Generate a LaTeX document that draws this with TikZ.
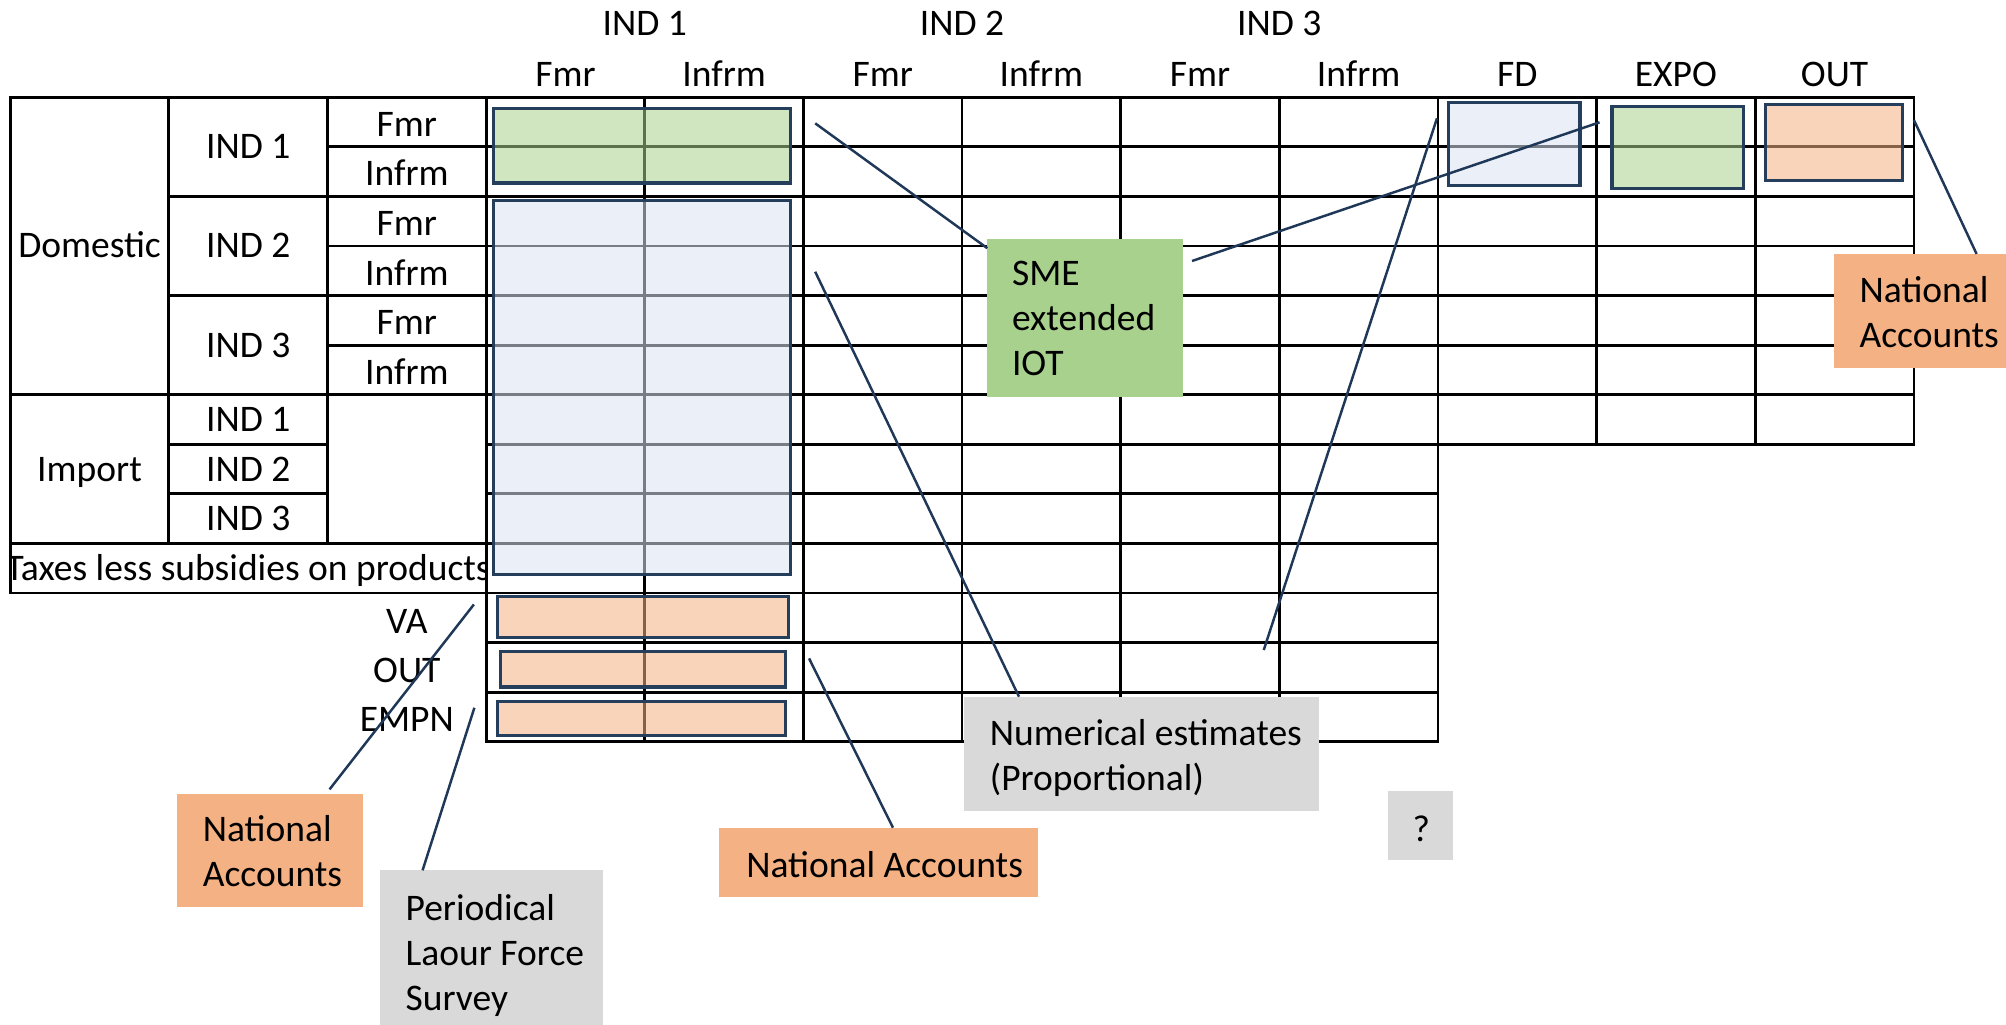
\documentclass[tikz,border=0pt]{standalone}
\usepackage{fontspec}
\setmainfont{Carlito}
\usetikzlibrary{positioning, calc}

\definecolor{boxedge}{RGB}{36,62,92}
\definecolor{linkblue}{RGB}{32,56,88}
\definecolor{greenfill}{HTML}{A9D18E}
\definecolor{bluefill}{HTML}{DAE3F3}
\definecolor{orangefill}{HTML}{F4B183}
\definecolor{greyfill}{HTML}{D9D9D9}

\newcommand{\tablefont}{\fontsize{16.7pt}{20pt}\selectfont}

\tikzset{
    grid line/.style={draw=black, line width=1.25pt, line cap=rect},
    hilite/.style={draw=boxedge, line width=1.4pt, fill opacity=0.55},
    lbl/.style={inner sep=0pt, text height=10.7pt, text depth=0pt},
    callout/.style={anchor=north west, inner sep=0pt, outer sep=0pt},
    callout text/.style={anchor=west, inner sep=0pt, align=left},
    link/.style={draw=linkblue, line width=1.1pt},
}

\begin{document}
\begin{tikzpicture}[x=0.02cm, y=-0.02cm, every node/.style={font=\tablefont}]
    \useasboundingbox (0,0) rectangle (1568,801);

    % headers
    \foreach \ind/\xc in {1/504,2/752,3/1000}
        \node[lbl] (ind\ind) at (\xc,18) {IND \ind};
    \foreach \hd/\xc [count=\i] in {Fmr/442,Infrm/566,Fmr/690,Infrm/814,Fmr/938,Infrm/1062,FD/1186,EXPO/1310,OUT/1434}
        \node[lbl] (head\i) at (\xc,58.5) {\hd};

    % main block
    \foreach \r in {0,...,13}
        \draw[grid line] (380,76+38.75*\r) -- (1124,76+38.75*\r);
    \foreach \xc in {380,504,...,1124}
        \draw[grid line] (\xc,76) -- (\xc,579.75);

    % FD, EXPO, OUT block
    \foreach \r in {0,...,7}
        \draw[grid line] (1124,76+38.75*\r) -- (1496,76+38.75*\r);
    \foreach \xc in {1248,1372,1496}
        \draw[grid line] (\xc,76) -- (\xc,347.25);

    % row labels block
    \draw[grid line] (8,76) rectangle (380,463.5);
    \foreach \xc in {132,256}
        \draw[grid line] (\xc,76) -- (\xc,424.75);
    \draw[grid line] (8,308.5) -- (380,308.5);
    \draw[grid line] (8,424.75) -- (380,424.75);
    \foreach \r in {1,...,5}
        \draw[grid line] (256,76+38.75*\r) -- (380,76+38.75*\r);
    \foreach \r in {2,4,7,8}
        \draw[grid line] (132,76+38.75*\r) -- (256,76+38.75*\r);

    \node[lbl] (domestic) at (70,192.25) {Domestic};
    \node[lbl] (import) at (70,366.6) {Import};
    \foreach \i in {1,2,3} {
        \node[lbl] (dom\i) at (194,37.25+77.5*\i) {IND \i};
        \node[lbl] (imp\i) at (194,289.125+38.75*\i) {IND \i};
    }
    \foreach \nm [count=\k from 0] in {Fmr,Infrm,Fmr,Infrm,Fmr,Infrm}
        \node[lbl] (sub\k) at (318,97.2+38.75*\k) {\nm};
    \begin{scope}
        \clip (8,424.75) rectangle (380,463.5);
        \node[lbl] (taxes) at (194,444.3) {Taxes less subsidies on products};
    \end{scope}
    \node[lbl] (va) at (318,485.6) {VA};
    \node[lbl] (out) at (318,523.9) {OUT};
    \node[lbl] (empn) at (318,562) {EMPN};

    % highlighted blocks
    \draw[hilite, fill=greenfill] (386,85) rectangle (618,143);
    \draw[hilite, fill=bluefill] (386,157) rectangle (618,449);
    \draw[hilite, fill=orangefill] (389,466.5) rectangle (616,498);
    \draw[hilite, fill=orangefill] (391,509) rectangle (614,537);
    \draw[hilite, fill=orangefill] (389,548.5) rectangle (614,575);
    \draw[hilite, fill=bluefill] (1132,80) rectangle (1235,145);
    \draw[hilite, fill=greenfill] (1260,83) rectangle (1363,147.5);
    \draw[hilite, fill=orangefill] (1380,81.5) rectangle (1487,141);

    % sources
    \node[callout, fill=greenfill, minimum width=3.056cm, minimum height=2.476cm] (sme) at (771.7,186.8) {};
    \node[callout text] (sme text) at ($(sme.west)+(19,0.3)$) {SME\\extended\\IOT};
    \node[callout, fill=orangefill, minimum width=2.72cm, minimum height=1.778cm] (naright) at (1433.2,198.5) {};
    \node[callout text] (naright text) at ($(naright.west)+(20,0.7)$) {National\\Accounts};
    \node[callout, fill=orangefill, minimum width=2.91cm, minimum height=1.776cm] (naleft) at (138.2,620.5) {};
    \node[callout text] (naleft text) at ($(naleft.west)+(20,0.7)$) {National\\Accounts};
    \node[callout, fill=greyfill, minimum width=3.484cm, minimum height=2.42cm] (lfs) at (297.2,680.3) {};
    \node[callout text] (lfs text) at ($(lfs.west)+(19.5,6.4)$) {Periodical\\Laour Force\\Survey};
    \node[callout, fill=orangefill, minimum width=4.992cm, minimum height=1.08cm] (nabottom) at (562,647) {};
    \node[callout text] (nabottom text) at ($(nabottom.west)+(21,2.2)$) {National Accounts};
    \node[callout, fill=greyfill, minimum width=5.546cm, minimum height=1.782cm] (num) at (753.7,544.6) {};
    \node[callout text] (num text) at ($(num.west)+(19.7,3.5)$) {Numerical estimates\\(Proportional)};
    \node[callout, fill=greyfill, minimum width=1.024cm, minimum height=1.074cm] (query) at (1084.8,618.3) {};
    \node[lbl] (query text) at ($(query.center)+(0.6,3)$) {?};

    % connectors
    \coordinate (intm end) at (637.2,96.4);
    \coordinate (expo end) at (1250.3,95.6);
    \coordinate (dom end) at (637.2,212.4);
    \coordinate (fd top) at (1123.2,92.5);
    \coordinate (fd bottom) at (987.8,508.1);
    \coordinate (out end) at (1496,93.8);
    \coordinate (va end) at (370.4,472.5);
    \coordinate (empn end) at (370.8,553.2);
    \coordinate (outrow end) at (632.4,514.6);

    \draw[link] (intm end) -- ($(sme.north west)+(0,7.2)$);
    \draw[link] ($(sme.north east)+(7.3,17.2)$) -- (expo end);
    \draw[link] (dom end) -- ($(num.north west)+(42.8,0)$);
    \draw[link] (fd top) -- (fd bottom);
    \draw[link] (out end) -- ($(naright.north west)+(111.8,0)$);
    \draw[link] (va end) -- ($(naleft.north west)+(119.4,-3.5)$);
    \draw[link] (empn end) -- ($(lfs.north west)+(33.1,0)$);
    \draw[link] (outrow end) -- ($(nabottom.north west)+(136,0)$);
\end{tikzpicture}
\end{document}
